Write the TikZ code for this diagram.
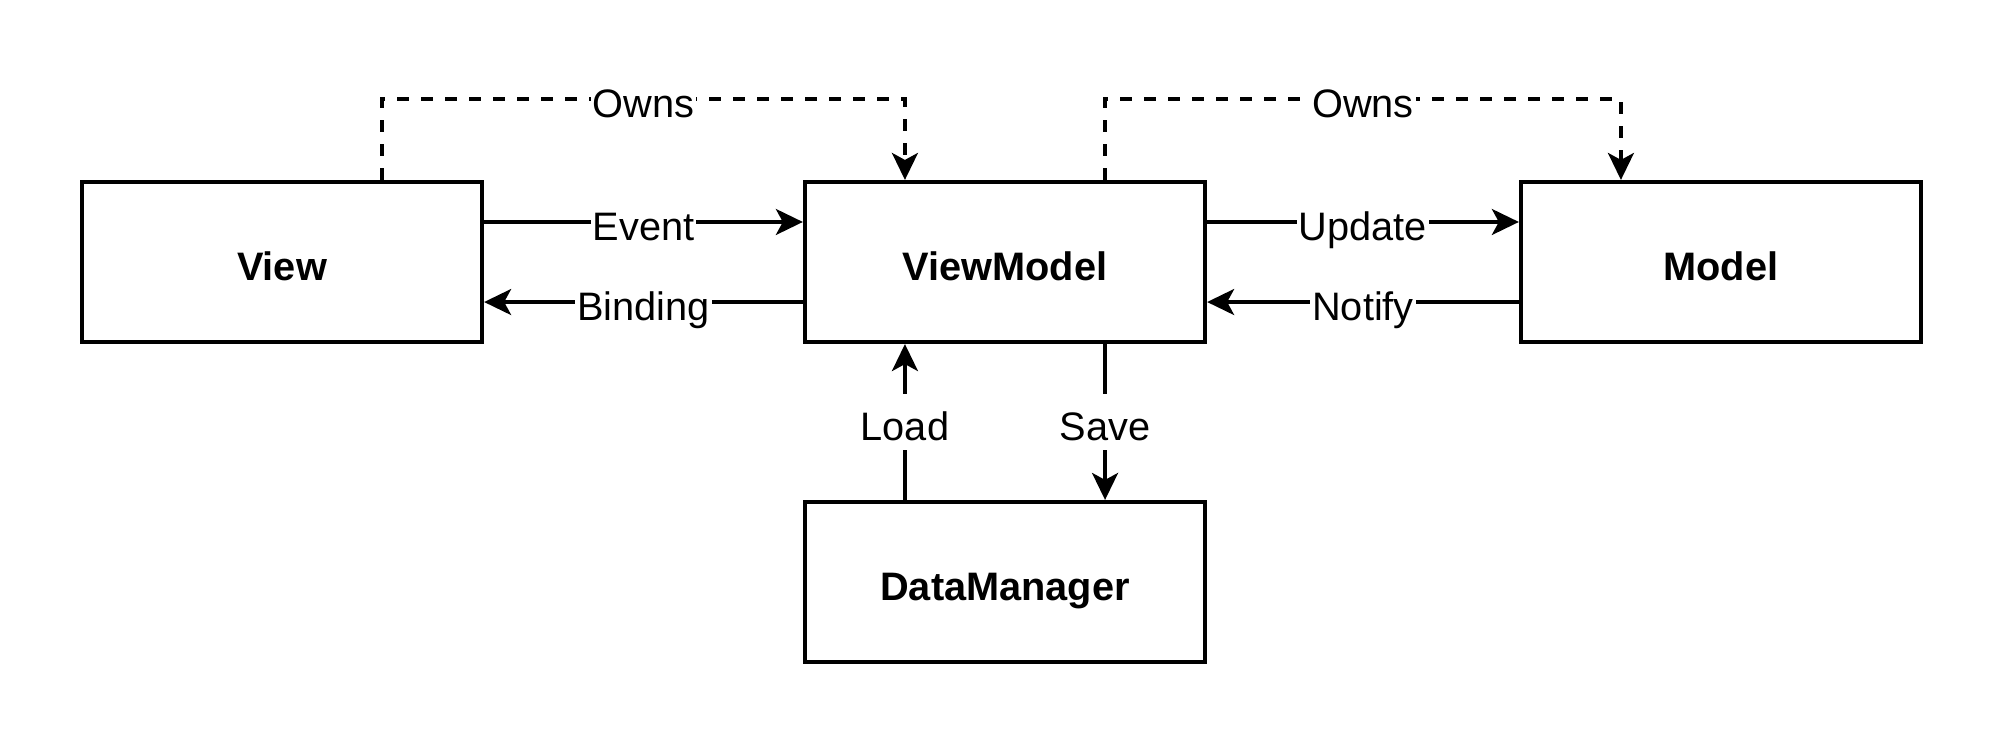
\documentclass[tikz,border=0pt]{standalone}
\usepackage{fontspec}
\setmainfont{Liberation Sans}
\usetikzlibrary{arrows.meta}
\tikzset{
    txt/.style={font=\fontsize{11.3}{13.5}\selectfont, text height=0.4cm, text depth=0.03cm},
    box/.style={txt, rectangle, draw, line width=1.15pt, minimum width=4cm, minimum height=1.6cm, inner sep=0mm, font=\fontsize{11.3}{13.5}\selectfont\bfseries},
    lbl/.style={txt, fill=white, inner xsep=0.2mm, inner ysep=0.6mm},
    flow/.style={line width=0.95pt, -{Stealth[length=0.27cm, width=0.26cm, inset=0.07cm]}},
    owns/.style={flow, dash pattern=on 0.12cm off 0.12cm}
}

\begin{document}
\begin{tikzpicture}[x=0.01cm, y=-0.01cm]
    \useasboundingbox (0, 0) rectangle (2008, 748);

    \node (view) [box] at (282, 262) {View};
    \node (vm) [box] at (1005, 262) {ViewModel};
    \node (model) [box] at (1721, 262) {Model};
    \node (dm) [box] at (1005, 582) {DataManager};

    \draw[flow] ([yshift=0.4cm]view.east) -- node[lbl] {Event} ([yshift=0.4cm]vm.west);
    \draw[flow] ([yshift=-0.4cm]vm.west) -- node[lbl] {Binding} ([yshift=-0.4cm]view.east);
    \draw[flow] ([yshift=0.4cm]vm.east) -- node[lbl] {Update} ([yshift=0.4cm]model.west);
    \draw[flow] ([yshift=-0.4cm]model.west) -- node[lbl] {Notify} ([yshift=-0.4cm]vm.east);

    \draw[flow] ([xshift=-1cm]dm.north) -- node[lbl] {Load} ([xshift=-1cm]vm.south);
    \draw[flow] ([xshift=1cm]vm.south) -- node[lbl] {Save} ([xshift=1cm]dm.north);

    \draw[owns] ([xshift=1cm]view.north) -- ++(0, -81) -| node[lbl, pos=0.25] {Owns} ([xshift=-1cm]vm.north);
    \draw[owns] ([xshift=1cm]vm.north) -- ++(0, -81) -| node[lbl, pos=0.25] {Owns} ([xshift=-1cm]model.north);
\end{tikzpicture}
\end{document}
